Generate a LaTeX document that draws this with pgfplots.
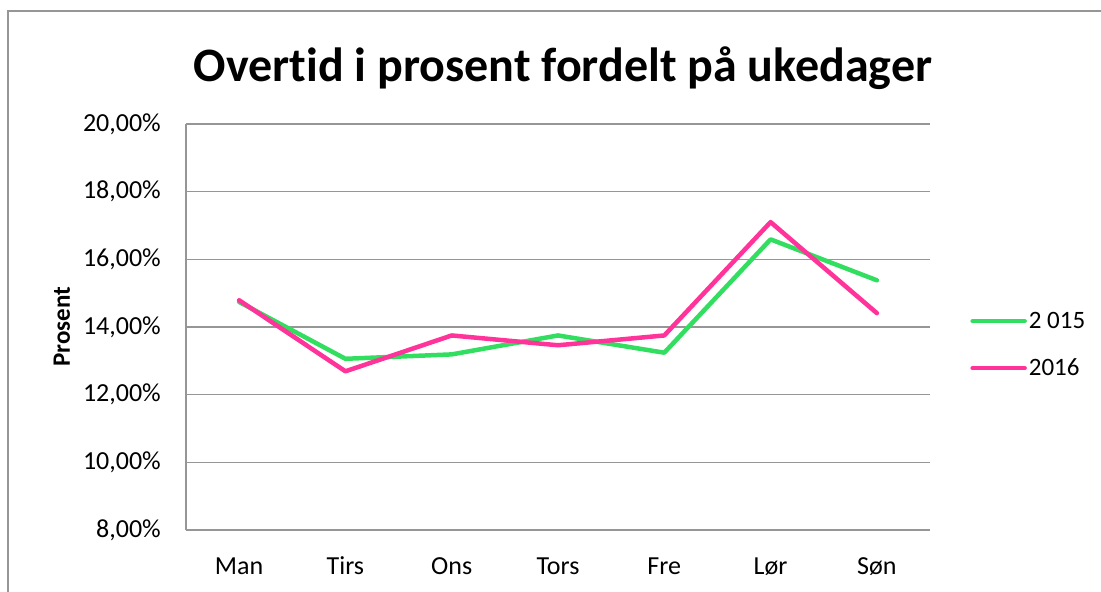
\documentclass[border=0pt]{standalone}
\usepackage{pgfplots}
\pgfplotsset{compat=1.18}
\usepackage{fontspec}
\setmainfont{Carlito}[Ligatures={NoCommon}]
\definecolor{cgreen}{RGB}{50,222,95}
\definecolor{cpink}{RGB}{255,51,153}
\definecolor{cgrid}{RGB}{150,150,150}
\begin{document}
\begin{tikzpicture}[x=1bp,y=1bp]
\path[use as bounding box] (0,0) rectangle (1101,592);
\begin{scope}
\clip (0,0) rectangle (1101,592);
\draw[cgrid,line width=1.2bp] (8,-5) -- (8,581) -- (1120,581);
\end{scope}
\node[font=\fontsize{48bp}{56bp}\selectfont\bfseries] at (563,524) {Overtid i prosent fordelt på ukedager};
\begin{axis}[
  at={(186bp,62bp)}, anchor=south west,
  scale only axis, width=744bp, height=406bp,
  xmin=-0.5, xmax=6.5, ymin=8, ymax=20,
  xtick={0,1,2,3,4,5,6},
  xticklabels={Man,Tirs,Ons,Tors,Fre,Lør,Søn},
  ytick={8,10,12,14,16,18,20},
  yticklabels={{8,00\%},{10,00\%},{12,00\%},{14,00\%},{16,00\%},{18,00\%},{20,00\%}},
  major tick length=0pt,
  axis x line*=bottom, axis y line*=left,
  axis line style={cgrid,line width=1.2bp,-},
  ymajorgrids, grid style={cgrid,line width=1.2bp},
  ticklabel style={font=\fontsize{26bp}{31bp}\selectfont},
  yticklabel style={inner sep=0pt, xshift=-25bp},
  xticklabel style={inner sep=0pt, text height=18bp, text depth=5bp, yshift=-26bp},
  ylabel={Prosent},
  every axis y label/.style={at={(axis description cs:-0.1667,0.5)},rotate=90,anchor=center,font=\fontsize{25bp}{30bp}\selectfont\bfseries},
  legend style={at={(axis description cs:1.054,0.456)}, anchor=west, draw=none, fill=none, inner sep=0pt,
    font=\fontsize{25bp}{30bp}\selectfont, row sep=25bp, nodes={inner sep=2bp}},
  legend cell align=left,
  legend image code/.code={\draw[#1,line cap=round] (0bp,0bp) -- (52bp,0bp);},
  clip=false,
]
\addplot[cgreen, line width=4.5bp, line cap=round, line join=round] coordinates {
 (0,14.74) (1,13.06) (2,13.19) (3,13.75) (4,13.24) (5,16.59) (6,15.38)};
\addlegendentry{2 015}
\addplot[cpink, line width=4.5bp, line cap=round, line join=round] coordinates {
 (0,14.79) (1,12.69) (2,13.75) (3,13.46) (4,13.75) (5,17.10) (6,14.41)};
\addlegendentry{2016}
\end{axis}
\end{tikzpicture}
\end{document}
